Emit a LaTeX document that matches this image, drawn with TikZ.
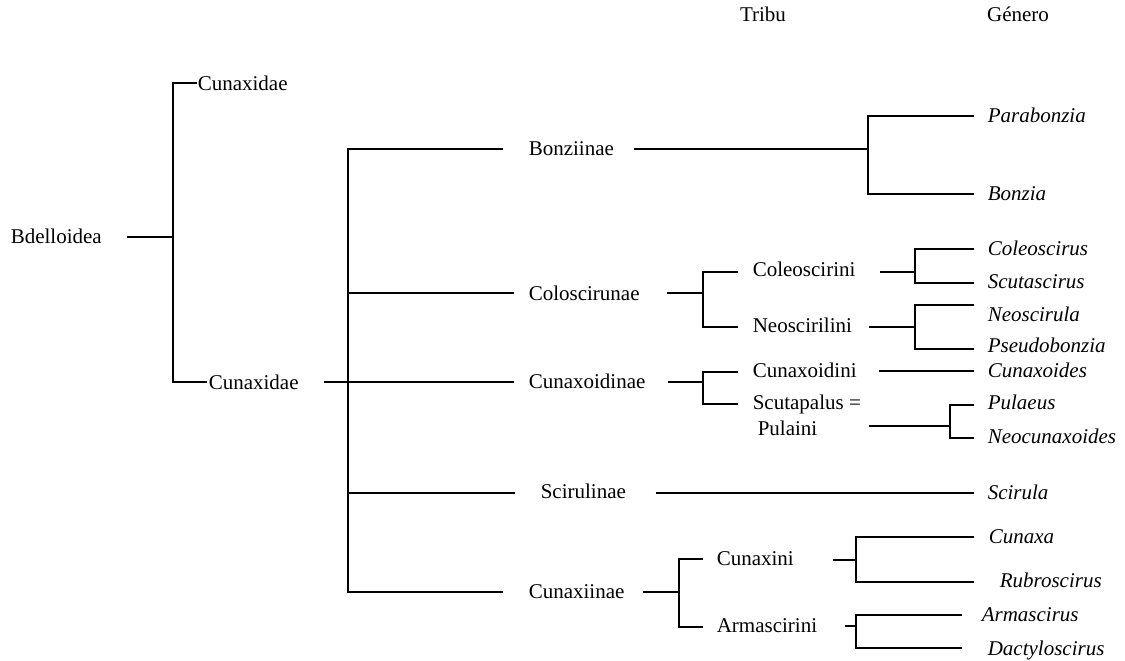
\documentclass[tikz,border=0pt]{standalone}
\usepackage{fontspec}
\setmainfont{Liberation Serif}
\begin{document}
\begin{tikzpicture}[x=1pt,y=-1pt, line width=1.6pt,
  lbl/.style={anchor=west, inner sep=0pt, text height=14pt, text depth=0pt, font=\fontsize{21}{25}\selectfont},
  gen/.style={lbl, font=\fontsize{21}{25}\selectfont\itshape}]
\useasboundingbox (0,0) rectangle (1125,661);
% header
\node[lbl, anchor=center] (tribu) at (763,15) {Tribu};
\node[lbl, anchor=center] (genero) at (1018,15) {Género};
% left part
\node[lbl] (bdel) at (10,236) {Bdelloidea};
\coordinate (j0) at (173,237);
\node[lbl] (cunA) at (197,83) {Cunaxidae};
\node[lbl] (cunB) at (208,382) {Cunaxidae};
\draw ([xshift=24pt,yshift=-1pt]bdel.east) -- (j0);
\draw (cunA.west) -- (j0 |- cunA.west) -- (j0 |- cunB.west) -- ([xshift=-1pt]cunB.west);
\coordinate (j1) at (348,382);
\draw ([xshift=25pt]cunB.east) -- (j1);
% subfamilies
\node[lbl] (bon) at (528,148) {Bonziinae};
\node[lbl] (col) at (528,293) {Coloscirunae};
\node[lbl] (cxd) at (528,381) {Cunaxoidinae};
\node[lbl] (sci) at (540,491) {Scirulinae};
\node[lbl] (cxi) at (528,591) {Cunaxiinae};
\coordinate (tt) at (348,149);
\coordinate (tb) at (348,592);
\coordinate (ts) at (348,493);
\draw ([xshift=-25pt,yshift=-1pt]bon.west) -- (tt) -- (tb) -- ([xshift=-25pt,yshift=-1pt]cxi.west);
\draw (j1 |- col.west) -- ([xshift=-14pt]col.west);
\draw (j1) -- ([xshift=-14pt,yshift=-1pt]cxd.west);
\draw (ts) -- ([xshift=-25pt,yshift=-2pt]sci.west);
% Bonziinae
\coordinate (jb) at (868,149);
\node[gen] (parab) at (987,115) {Parabonzia};
\node[gen] (bonz) at (987,193) {Bonzia};
\draw ([xshift=19pt,yshift=-1pt]bon.east) -- (jb);
\draw ([xshift=-13pt,yshift=-1pt]parab.west) -| (jb) |- ([xshift=-13pt,yshift=-1pt]bonz.west);
% Coloscirunae
\coordinate (jc) at (703,293);
\draw ([xshift=27pt]col.east) -- (jc);
\node[lbl] (coleo) at (752,269) {Coleoscirini};
\node[lbl] (neo) at (752,325) {Neoscirilini};
\draw ([xshift=-14pt,yshift=-3pt]coleo.west) -| (jc) |- ([xshift=-14pt,yshift=-2pt]neo.west);
\coordinate (jcc) at (915,272);
\draw ([xshift=24pt,yshift=-3pt]coleo.east) -- (jcc);
\node[gen] (coleos) at (987,248) {Coleoscirus};
\node[gen] (scutas) at (987,281) {Scutascirus};
\draw ([xshift=-13pt,yshift=-1pt]coleos.west) -| (jcc) |- ([xshift=-13pt,yshift=-2pt]scutas.west);
\coordinate (jn) at (915,327);
\draw ([xshift=16pt,yshift=-2pt]neo.east) -- (jn);
\node[gen] (neos) at (987,314) {Neoscirula};
\node[gen] (pseudo) at (987,345) {Pseudobonzia};
\draw ([xshift=-13pt,yshift=9pt]neos.west) -| (jn) |- ([xshift=-13pt,yshift=-4pt]pseudo.west);
% Cunaxoidinae
\coordinate (jx) at (703,382);
\draw ([xshift=22pt,yshift=-1pt]cxd.east) -- (jx);
\node[lbl] (cxdini) at (752,370) {Cunaxoidini};
\node[lbl] (scut) at (752,402) {Scutapalus =};
\node[lbl] (pula) at (757,428) {Pulaini};
\draw ([xshift=-14pt,yshift=-2pt]cxdini.west) -| (jx) |- ([xshift=-14pt,yshift=-2pt]scut.west);
\node[gen] (cunoides) at (987,370) {Cunaxoides};
\draw ([xshift=22pt,yshift=-1pt]cxdini.east) -- ([xshift=-13pt,yshift=-1pt]cunoides.west);
\coordinate (jp) at (950,426);
\draw ([xshift=51pt,yshift=2pt]pula.east) -- (jp);
\node[gen] (pulaeus) at (987,402) {Pulaeus};
\node[gen] (neocun) at (987,436) {Neocunaxoides};
\draw ([xshift=-13pt,yshift=-3pt]pulaeus.west) -| (jp) |- ([xshift=-13pt,yshift=-2pt]neocun.west);
% Scirulinae
\node[gen] (scirula) at (987,492) {Scirula};
\draw ([xshift=29pt,yshift=-2pt]sci.east) -- ([xshift=-13pt,yshift=-1pt]scirula.west);
% Cunaxiinae
\coordinate (ji) at (679,592);
\draw ([xshift=18pt,yshift=-1pt]cxi.east) -- (ji);
\node[lbl] (cxini) at (716,558) {Cunaxini};
\node[lbl] (arm) at (716,625) {Armascirini};
\draw ([xshift=-13pt,yshift=-1pt]cxini.west) -| (ji) |- ([xshift=-13pt,yshift=-2pt]arm.west);
\coordinate (jcx) at (856,560);
\draw ([xshift=38pt,yshift=-2pt]cxini.east) -- (jcx);
\node[gen] (cunaxa) at (988,536) {Cunaxa};
\node[gen] (rubro) at (999,580) {Rubroscirus};
\draw ([xshift=-14pt,yshift=-1pt]cunaxa.west) -| (jcx) |- ([xshift=-25pt,yshift=-2pt]rubro.west);
\coordinate (ja) at (856,626);
\draw ([xshift=27pt,yshift=-1pt]arm.east) -- (ja);
\node[gen] (armas) at (981,614) {Armascirus};
\node[gen] (dacty) at (987,648) {Dactyloscirus};
\draw ([xshift=-19pt,yshift=-1pt]armas.west) -| (ja) |- ([xshift=-25pt]dacty.west);
\end{tikzpicture}
\end{document}
